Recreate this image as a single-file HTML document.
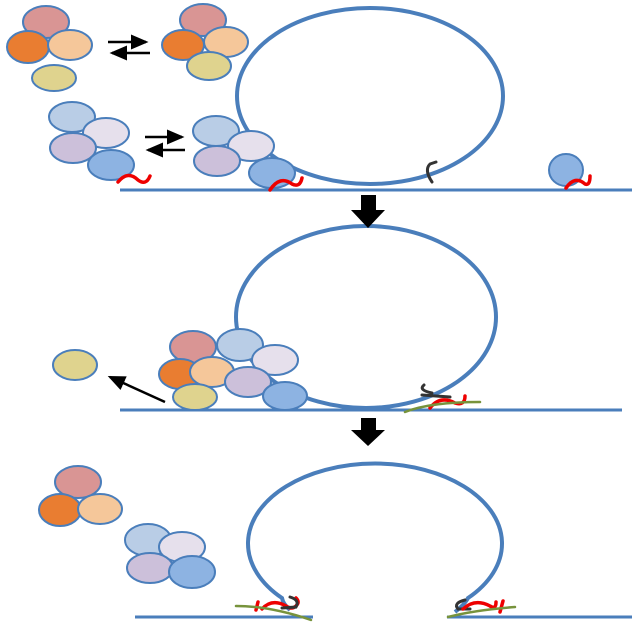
<!DOCTYPE html>
<html><head><meta charset="utf-8"><style>body{margin:0;background:#fff}svg{display:block}</style></head>
<body>
<svg width="640" height="640" viewBox="0 0 640 640">
<defs>
<marker id="ah" markerWidth="8" markerHeight="8" refX="6" refY="3" orient="auto"><path d="M0,0 L7,3 L0,6 Z" fill="#000"/></marker>
</defs>
<g fill="none" stroke="#4a7ebb" stroke-width="4">
<ellipse cx="370" cy="96" rx="133" ry="88"/>
<ellipse cx="366" cy="317" rx="130" ry="91"/>
<path d="M290,610 Q283,604 282,598 A127,80 0 1 1 468,598 Q465,604 455,612"/>
</g>
<g stroke="#4a7ebb" stroke-width="3">
<line x1="120" y1="190" x2="632" y2="190"/>
<line x1="120" y1="410" x2="622" y2="410"/>
<line x1="135" y1="617" x2="313" y2="617"/>
<line x1="447" y1="617" x2="632" y2="617"/>
</g>
<g stroke="#4a7ebb" stroke-width="2">
<ellipse cx="46" cy="22" rx="23" ry="16" fill="#d99594"/>
<ellipse cx="28" cy="47" rx="21" ry="16" fill="#e97d31"/>
<ellipse cx="70" cy="45" rx="22" ry="15" fill="#f5c79a"/>
<ellipse cx="54" cy="78" rx="22" ry="13" fill="#dfd38e"/>
<ellipse cx="203" cy="20" rx="23" ry="16" fill="#d99594"/>
<ellipse cx="183" cy="45" rx="21" ry="15" fill="#e97d31"/>
<ellipse cx="226" cy="42" rx="22" ry="15" fill="#f5c79a"/>
<ellipse cx="209" cy="66" rx="22" ry="14" fill="#dfd38e"/>
<ellipse cx="72" cy="117" rx="23" ry="15" fill="#b9cde6"/>
<ellipse cx="106" cy="133" rx="23" ry="15" fill="#e6e0ec"/>
<ellipse cx="73" cy="148" rx="23" ry="15" fill="#ccc0da"/>
<ellipse cx="111" cy="165" rx="23" ry="15" fill="#8db3e2"/>
<ellipse cx="216" cy="131" rx="23" ry="15" fill="#b9cde6"/>
<ellipse cx="251" cy="146" rx="23" ry="15" fill="#e6e0ec"/>
<ellipse cx="217" cy="161" rx="23" ry="15" fill="#ccc0da"/>
<ellipse cx="272" cy="173" rx="23" ry="15" fill="#8db3e2"/>
<ellipse cx="566" cy="170" rx="17" ry="16" fill="#8db3e2"/>
<ellipse cx="75" cy="365" rx="22" ry="15" fill="#dfd38e"/>
<ellipse cx="240" cy="345" rx="23" ry="16" fill="#b9cde6"/>
<ellipse cx="193" cy="347" rx="23" ry="16" fill="#d99594"/>
<ellipse cx="275" cy="360" rx="23" ry="15" fill="#e6e0ec"/>
<ellipse cx="180" cy="374" rx="21" ry="15" fill="#e97d31"/>
<ellipse cx="212" cy="372" rx="22" ry="15" fill="#f5c79a"/>
<ellipse cx="248" cy="382" rx="23" ry="15" fill="#ccc0da"/>
<ellipse cx="195" cy="397" rx="22" ry="13" fill="#dfd38e"/>
<ellipse cx="285" cy="396" rx="22" ry="14" fill="#8db3e2"/>
<ellipse cx="78" cy="482" rx="23" ry="16" fill="#d99594"/>
<ellipse cx="60" cy="510" rx="21" ry="16" fill="#e97d31"/>
<ellipse cx="100" cy="509" rx="22" ry="15" fill="#f5c79a"/>
<ellipse cx="148" cy="540" rx="23" ry="16" fill="#b9cde6"/>
<ellipse cx="182" cy="547" rx="23" ry="15" fill="#e6e0ec"/>
<ellipse cx="150" cy="568" rx="23" ry="15" fill="#ccc0da"/>
<ellipse cx="192" cy="572" rx="23" ry="16" fill="#8db3e2"/>
</g>
<g stroke="#000" stroke-width="2.5">
<line x1="108" y1="42" x2="146" y2="42" marker-end="url(#ah)"/>
<line x1="150" y1="53" x2="112" y2="53" marker-end="url(#ah)"/>
<line x1="145" y1="137" x2="182" y2="137" marker-end="url(#ah)"/>
<line x1="185" y1="150" x2="148" y2="150" marker-end="url(#ah)"/>
<line x1="165" y1="402" x2="110" y2="377" marker-end="url(#ah)"/>
</g>
<g fill="#000">
<path d="M361,195 H376 V210 H385 L368,228 L351,210 H361 Z"/>
<path d="M361,418 H376 V430 H385 L368,446 L351,430 H361 Z"/>
</g>
<g fill="none" stroke-linecap="round">
<path d="M118,182 Q128,170 138,180 Q146,186 150,176" stroke="#e00" stroke-width="3.5"/>
<path d="M270,190 Q280,175 292,184 Q300,188 302,178" stroke="#e00" stroke-width="3.5"/>
<path d="M566,188 Q575,175 585,184 Q590,186 590,176" stroke="#e00" stroke-width="3.5"/>
<path d="M432,182 Q424,170 430,164 L436,162" stroke="#333" stroke-width="3"/>
<path d="M432,393 Q418,390 424,385 M422,395 L450,397" stroke="#333" stroke-width="3"/>
<path d="M430,408 Q440,395 455,403 Q465,406 465,396" stroke="#e00" stroke-width="3.5"/>
<path d="M405,412 Q430,402 480,402" stroke="#77933c" stroke-width="2.5"/>
<path d="M256,610 L258,602 M262,609 Q272,598 286,606 Q292,610 296,606 Q300,602 296,598" stroke="#e00" stroke-width="3.5"/>
<path d="M290,597 Q300,600 296,607 L282,608" stroke="#333" stroke-width="3"/>
<path d="M236,606 Q270,606 311,620" stroke="#77933c" stroke-width="2.5"/>
<path d="M465,600 Q453,603 458,609 L470,609" stroke="#333" stroke-width="3"/>
<path d="M463,609 Q475,598 490,606 Q496,610 496,602 M500,612 L503,601" stroke="#e00" stroke-width="3.5"/>
<path d="M448,617 Q475,610 515,607" stroke="#77933c" stroke-width="2.5"/>
</g>
</svg>
</body></html>
